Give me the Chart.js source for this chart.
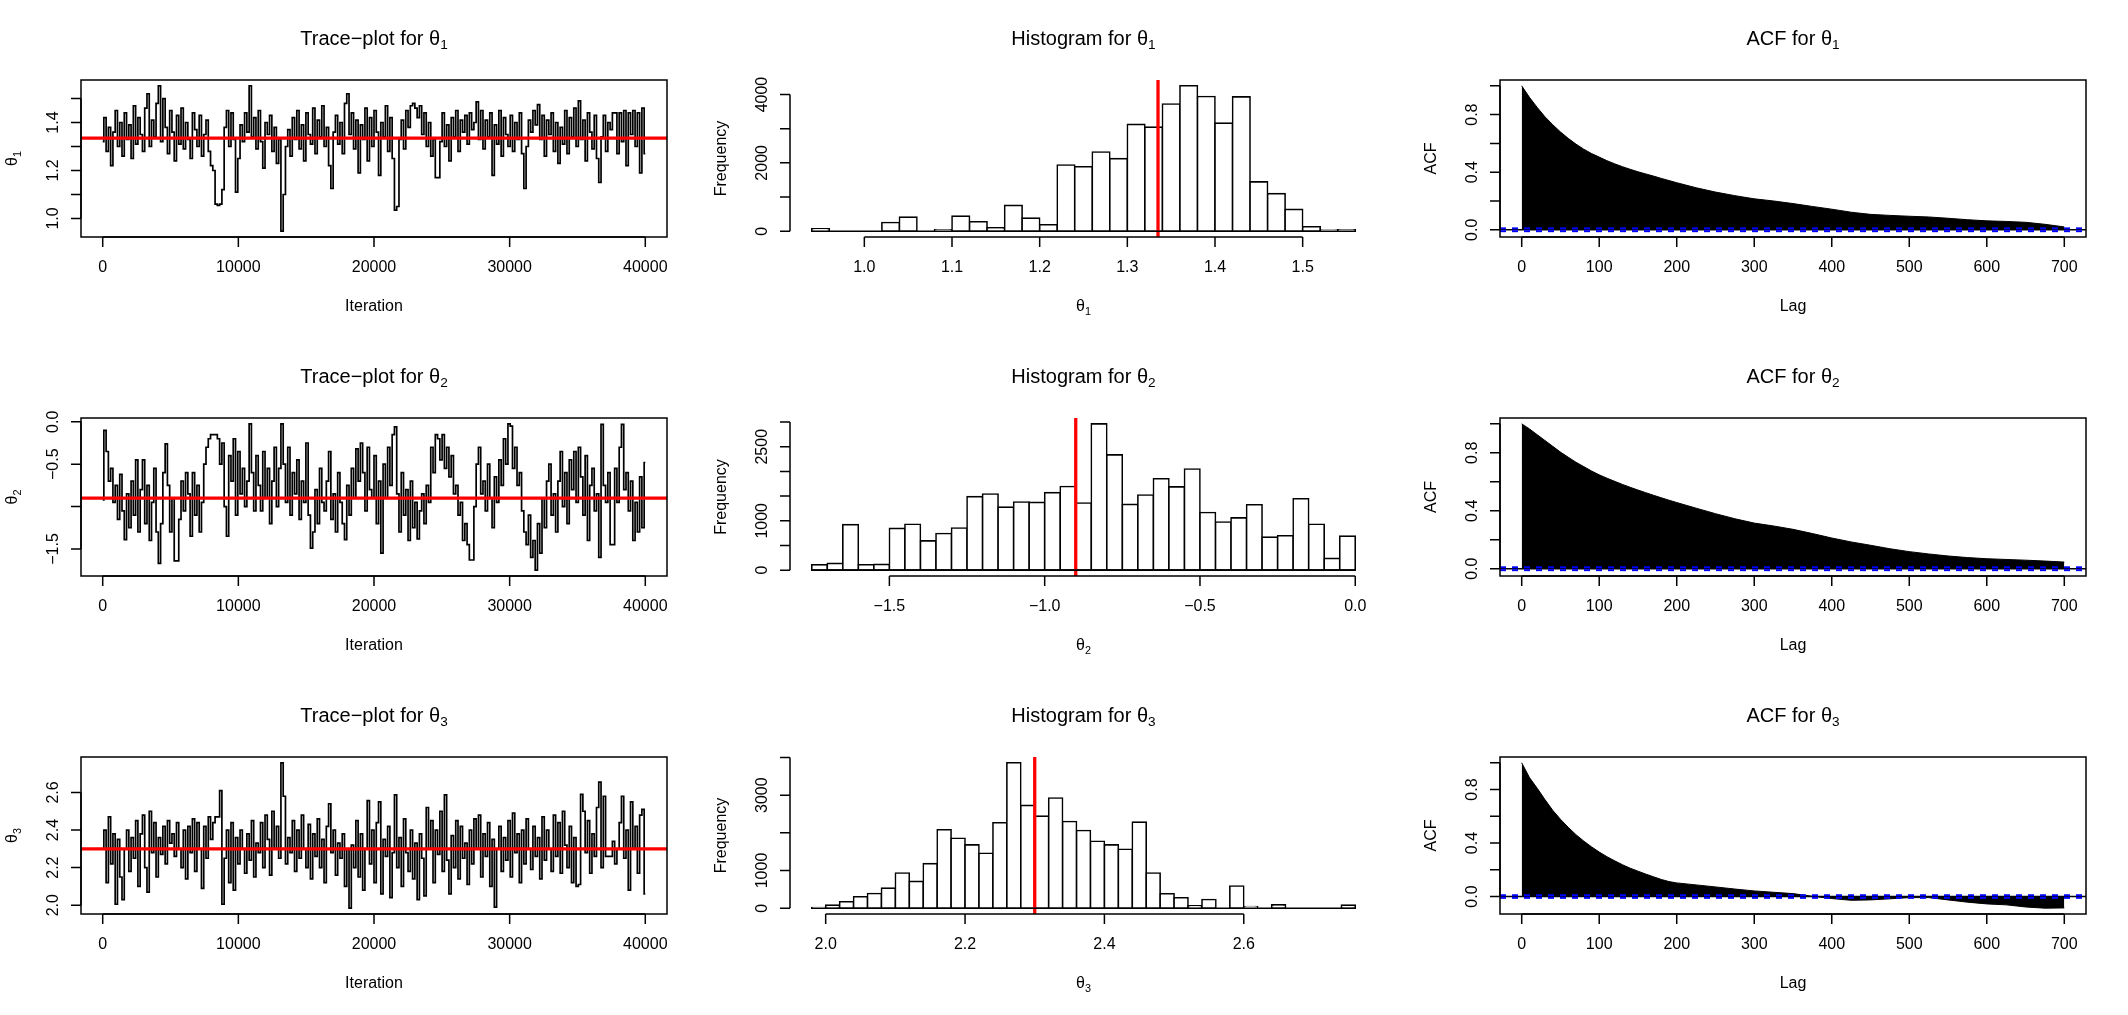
<!DOCTYPE html>
<html><head><meta charset="utf-8">
<script src="https://cdn.jsdelivr.net/npm/chart.js@4.4.0/dist/chart.umd.min.js"></script>
<style>html,body{margin:0;padding:0;background:#fff;width:2128px;height:1015px;overflow:hidden}canvas{position:absolute}</style>
</head><body>
<script>
// ---------- DATA ----------
const iterMax = 40000;
const traceXTicks = [0, 10000, 20000, 30000, 40000];
const traceXLabels = ['0', '10000', '20000', '30000', '40000'];

const trace1 = [
1.32,1.42,1.28,1.38,1.22,1.36,1.45,1.30,1.40,1.26,
1.44,1.33,1.39,1.25,1.47,1.31,1.42,1.35,1.28,1.46,
1.52,1.30,1.41,1.34,1.48,1.553,1.32,1.50,1.38,1.27,
1.45,1.36,1.24,1.43,1.31,1.46,1.29,1.40,1.33,1.25,
1.44,1.37,1.30,1.43,1.26,1.35,1.41,1.28,1.22,1.20,
1.06,1.055,1.06,1.12,1.38,1.45,1.30,1.44,1.33,1.11,
1.25,1.39,1.32,1.44,1.36,1.553,1.34,1.42,1.29,1.45,
1.32,1.21,1.40,1.35,1.43,1.28,1.38,1.23,1.33,0.947,
1.10,1.30,1.37,1.26,1.42,1.33,1.45,1.29,1.39,1.24,
1.44,1.35,1.31,1.46,1.27,1.41,1.34,1.47,1.30,1.38,
1.22,1.125,1.36,1.43,1.31,1.40,1.27,1.48,1.52,1.35,
1.44,1.29,1.41,1.19,1.39,1.33,1.46,1.24,1.42,1.30,
1.45,1.36,1.18,1.40,1.34,1.47,1.28,1.42,1.25,1.035,
1.05,1.33,1.41,1.29,1.45,1.38,1.47,1.48,1.46,1.42,
1.47,1.35,1.44,1.30,1.40,1.26,1.33,1.17,1.17,1.32,
1.44,1.30,1.39,1.24,1.42,1.34,1.45,1.28,1.41,1.36,
1.43,1.31,1.44,1.37,1.40,1.486,1.33,1.45,1.29,1.41,
1.34,1.44,1.18,1.39,1.31,1.45,1.26,1.42,1.35,1.30,
1.43,1.28,1.40,1.33,1.44,1.27,1.125,1.30,1.41,1.36,
1.45,1.39,1.475,1.33,1.43,1.26,1.41,1.35,1.44,1.28,
1.40,1.23,1.38,1.31,1.45,1.27,1.42,1.34,1.46,1.30,
1.49,1.33,1.41,1.24,1.44,1.36,1.29,1.43,1.25,1.15,
1.34,1.43,1.28,1.40,1.37,1.44,1.44,1.27,1.44,1.32,
1.45,1.22,1.44,1.35,1.45,1.30,1.44,1.19,1.46,1.27];

const trace2 = [
-0.92,-0.10,-0.35,-0.70,-0.55,-0.95,-0.75,-1.15,-0.62,-1.05,
-1.39,-0.85,-1.25,-0.70,-1.10,-0.45,-1.30,-0.80,-0.45,-1.20,
-0.75,-1.40,-0.95,-0.55,-1.30,-1.67,-1.20,-0.60,-0.26,-0.75,
-1.30,-0.90,-1.64,-1.64,-1.15,-0.70,-1.05,-0.60,-0.85,-1.35,
-0.60,-1.10,-0.75,-1.30,-0.95,-0.50,-0.30,-0.20,-0.15,-0.15,
-0.15,-0.20,-0.50,-0.25,-1.00,-1.35,-0.40,-0.70,-0.20,-1.10,
-0.35,-0.85,-0.55,-1.00,-0.70,-0.024,-0.60,-1.05,-0.40,-0.75,
-1.05,-0.35,-0.90,-0.55,-1.20,-0.70,-0.30,-1.00,-0.55,-0.024,
-0.50,-0.95,-0.30,-1.10,-0.60,-0.85,-0.45,-1.15,-0.70,-0.95,
-0.25,-1.10,-1.49,-1.30,-0.80,-1.20,-0.55,-0.95,-1.05,-0.70,
-0.35,-1.15,-0.85,-1.30,-0.60,-0.95,-1.20,-1.39,-0.75,-1.10,
-0.55,-0.90,-0.32,-0.70,-0.25,-0.60,-1.05,-0.30,-0.80,-0.90,
-0.40,-1.20,-0.70,-1.55,-0.50,-0.90,-0.30,-0.75,-0.15,-0.06,
-0.85,-1.30,-0.60,-1.10,-0.80,-1.40,-0.70,-1.25,-0.95,-1.38,
-1.05,-0.85,-1.20,-0.75,-0.95,-0.30,-0.60,-0.15,-0.20,-0.45,
-0.15,-0.55,-0.30,-0.65,-0.40,-0.85,-0.75,-1.10,-0.95,-1.40,
-1.20,-1.45,-1.63,-1.63,-1.00,-0.50,-0.30,-0.85,-0.70,-1.05,
-0.50,-0.90,-1.25,-0.65,-0.95,-0.45,-0.75,-0.20,-0.50,-0.024,
-0.05,-0.55,-0.30,-0.75,-0.60,-1.05,-1.30,-1.45,-1.10,-1.60,
-1.40,-1.75,-1.20,-1.55,-0.90,-1.25,-0.70,-0.50,-1.10,-0.85,
-1.30,-0.70,-0.35,-1.00,-0.60,-1.20,-0.45,-0.80,-0.35,-0.95,
-0.30,-0.65,-1.10,-0.40,-1.40,-0.75,-0.55,-1.05,-0.85,-1.60,
-0.03,-0.75,-0.95,-0.60,-1.45,-1.45,-0.55,-0.95,-0.30,-0.03,
-0.80,-0.60,-1.05,-0.70,-1.40,-0.95,-1.30,-0.65,-1.25,-0.48];

const trace3 = [
2.30,2.40,2.12,2.47,2.22,2.38,2.005,2.35,2.15,2.03,
2.30,2.40,2.18,2.36,2.25,2.45,2.10,2.38,2.48,2.20,
2.07,2.50,2.28,2.44,2.15,2.36,2.27,2.42,2.22,2.45,
2.33,2.38,2.26,2.44,2.30,2.20,2.40,2.14,2.42,2.28,
2.46,2.18,2.44,2.30,2.09,2.42,2.25,2.47,2.35,2.44,
2.47,2.47,2.61,2.005,2.25,2.40,2.12,2.44,2.08,2.36,
2.22,2.40,2.30,2.17,2.38,2.24,2.45,2.15,2.33,2.28,
2.44,2.20,2.48,2.35,2.16,2.50,2.30,2.42,2.25,2.758,
2.58,2.22,2.36,2.28,2.45,2.18,2.40,2.25,2.48,2.30,
2.20,2.43,2.14,2.38,2.26,2.46,2.20,2.35,2.12,2.42,
2.54,2.28,2.40,2.16,2.33,2.25,2.38,2.10,2.30,1.984,
2.32,2.20,2.45,2.15,2.38,2.08,2.30,2.557,2.22,2.40,
2.12,2.44,2.55,2.06,2.35,2.26,2.42,2.04,2.28,2.587,
2.20,2.36,2.10,2.46,2.28,2.18,2.40,2.14,2.33,2.03,
2.38,2.25,2.05,2.52,2.30,2.45,2.12,2.40,2.27,2.50,
2.18,2.587,2.24,2.06,2.37,2.20,2.45,2.14,2.42,2.25,
2.33,2.11,2.40,2.22,2.46,2.30,2.48,2.15,2.38,2.26,
2.44,2.10,2.35,1.99,2.30,2.42,2.18,2.36,2.24,2.45,
2.15,2.49,2.28,2.38,2.12,2.40,2.22,2.46,2.30,2.19,
2.42,2.26,2.36,2.14,2.47,2.24,2.40,2.30,2.18,2.48,
2.26,2.44,2.17,2.50,2.32,2.20,2.42,2.12,2.36,2.10,
2.11,2.59,2.50,2.28,2.45,2.17,2.38,2.26,2.52,2.655,
2.20,2.58,2.26,2.26,2.26,2.34,2.22,2.30,2.44,2.58,
2.25,2.40,2.08,2.55,2.30,2.42,2.17,2.48,2.51,2.06];

const posteriorMeans = [1.335, -0.90, 2.30];

const trace1YTicks = [1.0, 1.1, 1.2, 1.3, 1.4, 1.5];
const trace1YLabels = ['1.0', '', '1.2', '', '1.4', ''];
const trace2YTicks = [-1.5, -1.0, -0.5, 0.0];
const trace2YLabels = ['\u22121.5', '', '\u22120.5', '0.0'];
const trace3YTicks = [2.0, 2.2, 2.4, 2.6];
const trace3YLabels = ['2.0', '2.2', '2.4', '2.6'];

const hist1Start = 0.94, hist1Bin = 0.02;
const hist1Counts = [70,0,0,0,255,413,0,40,442,275,100,757,383,187,1936,1887,2320,2123,3126,3047,3725,4256,3941,3165,3931,1445,1101,639,128,30,40];
const hist1XTicks = [1.0, 1.1, 1.2, 1.3, 1.4, 1.5];
const hist1XLabels = ['1.0', '1.1', '1.2', '1.3', '1.4', '1.5'];
const hist1YTicks = [0, 1000, 2000, 3000, 4000];
const hist1YLabels = ['0', '', '2000', '', '4000'];

const hist2Start = -1.75, hist2Bin = 0.05;
const hist2Counts = [109,137,922,109,116,847,929,594,744,854,1489,1544,1277,1380,1373,1571,1694,1359,2964,2336,1332,1523,1851,1687,2049,1168,977,1059,1325,669,697,1448,929,239,690];
const hist2XTicks = [-1.5, -1.0, -0.5, 0.0];
const hist2XLabels = ['\u22121.5', '\u22121.0', '\u22120.5', '0.0'];
const hist2YTicks = [0, 500, 1000, 1500, 2000, 2500, 3000];
const hist2YLabels = ['0', '', '1000', '', '', '2500', ''];

const hist3Start = 1.98, hist3Bin = 0.02;
const hist3Counts = [20,80,169,302,391,533,933,711,1182,2080,1858,1680,1458,2267,3858,2729,2444,2924,2302,2062,1778,1680,1564,2284,933,382,276,62,231,0,587,44,0,89,0,0,0,0,80];
const hist3XTicks = [2.0, 2.2, 2.4, 2.6];
const hist3XLabels = ['2.0', '2.2', '2.4', '2.6'];
const hist3YTicks = [0, 1000, 2000, 3000, 4000];
const hist3YLabels = ['0', '1000', '', '3000', ''];

const acfLags = [0,10,20,30,40,50,60,70,80,90,100,110,120,130,140,150,160,170,180,190,200,225,250,275,300,325,350,375,400,425,450,475,500,525,550,575,600,625,650,675,700];
const acf1 = [1.00,0.92,0.85,0.785,0.73,0.68,0.635,0.595,0.56,0.53,0.505,0.48,0.458,0.438,0.42,0.403,0.388,0.373,0.357,0.342,0.327,0.292,0.262,0.237,0.215,0.200,0.182,0.162,0.143,0.122,0.107,0.100,0.094,0.089,0.080,0.070,0.062,0.058,0.052,0.038,0.020];
const acf2 = [1.00,0.965,0.925,0.885,0.845,0.805,0.77,0.735,0.705,0.675,0.648,0.625,0.603,0.582,0.562,0.543,0.525,0.507,0.49,0.473,0.457,0.418,0.38,0.345,0.315,0.295,0.272,0.243,0.212,0.185,0.162,0.138,0.118,0.102,0.088,0.077,0.069,0.064,0.059,0.053,0.046];
const acf3 = [1.00,0.89,0.81,0.725,0.645,0.578,0.518,0.463,0.415,0.372,0.333,0.298,0.267,0.238,0.212,0.19,0.168,0.148,0.128,0.112,0.102,0.087,0.072,0.056,0.042,0.032,0.022,0.002,-0.015,-0.028,-0.025,-0.017,-0.008,-0.008,-0.025,-0.042,-0.055,-0.062,-0.078,-0.087,-0.085];
const acfCI = 0.0098;
const acfXTicks = [0, 100, 200, 300, 400, 500, 600, 700];
const acfXLabels = ['0', '100', '200', '300', '400', '500', '600', '700'];
const acfYTicks = [0, 0.2, 0.4, 0.6, 0.8, 1.0];
const acfYLabels = ['0.0', '', '0.4', '', '0.8', ''];

// ---------- LAYOUT / DRAWING ----------
const W = [709, 710, 709], H = [338, 339, 338];
const X0 = [0, 709, 1419], Y0 = [0, 338, 677];
const PAD = {left: 81, right: 42, top: 80, bottom: 101};
const FONT = '"Liberation Sans", Arial, Helvetica, sans-serif';
const TICK = 10;

function rExt(lo, hi) { const d = (hi - lo) * 0.04; return [lo - d, hi + d]; }
function setFont(ctx, s) { ctx.font = s + 'px ' + FONT; }
function partsWidth(ctx, parts, size) {
  let w = 0;
  for (const p of parts) { setFont(ctx, p.sub ? size * 0.68 : size); w += ctx.measureText(p.t).width; }
  return w;
}
function drawParts(ctx, parts, x, y, size) {
  let cx = x - partsWidth(ctx, parts, size) / 2;
  ctx.textAlign = 'left'; ctx.textBaseline = 'alphabetic';
  for (const p of parts) {
    const s = p.sub ? size * 0.68 : size;
    setFont(ctx, s);
    ctx.fillText(p.t, cx, y + (p.sub ? size * 0.22 : 0));
    cx += ctx.measureText(p.t).width;
  }
}
function drawPartsRot(ctx, parts, x, y, size) {
  ctx.save(); ctx.translate(x, y); ctx.rotate(-Math.PI / 2); drawParts(ctx, parts, 0, 0, size); ctx.restore();
}

function rAxesPlugin(cfg) {
  return {
    id: 'raxes',
    afterDatasetsDraw(chart) {
      if (!cfg.baseline) return;
      const ctx = chart.ctx, xs = chart.scales.x, ys = chart.scales.y;
      ctx.save(); ctx.strokeStyle = '#000'; ctx.lineWidth = 1.6;
      ctx.beginPath();
      ctx.moveTo(xs.getPixelForValue(cfg.baseline[0]), ys.getPixelForValue(0));
      ctx.lineTo(xs.getPixelForValue(cfg.baseline[1]), ys.getPixelForValue(0));
      ctx.stroke(); ctx.restore();
    },
    afterDraw(chart) {
      const ctx = chart.ctx, a = chart.chartArea, xs = chart.scales.x, ys = chart.scales.y;
      ctx.save();
      ctx.strokeStyle = '#000'; ctx.fillStyle = '#000'; ctx.lineWidth = 1.5;
      if (cfg.box) ctx.strokeRect(a.left, a.top, a.right - a.left, a.bottom - a.top);
      const xp = cfg.xTicks.map(v => xs.getPixelForValue(v));
      const yp = cfg.yTicks.map(v => ys.getPixelForValue(v));
      ctx.beginPath();
      ctx.moveTo(xp[0], a.bottom); ctx.lineTo(xp[xp.length - 1], a.bottom);
      xp.forEach(px => { ctx.moveTo(px, a.bottom); ctx.lineTo(px, a.bottom + TICK); });
      ctx.moveTo(a.left, yp[0]); ctx.lineTo(a.left, yp[yp.length - 1]);
      yp.forEach(py => { ctx.moveTo(a.left, py); ctx.lineTo(a.left - TICK, py); });
      ctx.stroke();
      xp.forEach((px, i) => { if (cfg.xLabels[i]) drawParts(ctx, [{t: cfg.xLabels[i]}], px, a.bottom + 35, 16); });
      yp.forEach((py, i) => { if (cfg.yLabels[i]) drawPartsRot(ctx, [{t: cfg.yLabels[i]}], a.left - 23, py, 16); });
      const cx = (a.left + a.right) / 2, cy = (a.top + a.bottom) / 2;
      drawParts(ctx, cfg.title, cx, a.top - 35, 20);
      drawParts(ctx, cfg.xTitle, cx, a.bottom + 74, 16);
      drawPartsRot(ctx, cfg.yTitle, a.left - 64, cy, 16);
      ctx.restore();
    }
  };
}

const baseOpts = {
  responsive: false, animation: false, devicePixelRatio: 1, events: [],
  layout: {padding: PAD},
  plugins: {legend: {display: false}, tooltip: {enabled: false}, title: {display: false}}
};
function scalesFor(xr, yr) {
  return {
    x: {type: 'linear', display: false, min: xr[0], max: xr[1], offset: false},
    y: {type: 'linear', display: false, min: yr[0], max: yr[1]}
  };
}
const theta = k => [{t: '\u03b8'}, {t: String(k), sub: true}];

function traceConfig(k, vals, mean, yTicks, yLabels) {
  const xr = rExt(0, iterMax);
  const yr = rExt(Math.min(...vals), Math.max(...vals));
  const step = iterMax / (vals.length - 1);
  const cfg = {box: true, xTicks: traceXTicks, xLabels: traceXLabels, yTicks, yLabels,
    title: [{t: 'Trace\u2212plot for \u03b8'}, {t: String(k), sub: true}],
    xTitle: [{t: 'Iteration'}], yTitle: theta(k)};
  return {
    type: 'line',
    data: {datasets: [
      {data: [{x: xr[0], y: mean}, {x: xr[1], y: mean}], borderColor: '#ff0000', borderWidth: 3.4, pointRadius: 0},
      {data: vals.map((v, i) => ({x: i * step, y: v})), borderColor: '#000', borderWidth: 1.7, pointRadius: 0, stepped: 'middle'}
    ]},
    options: Object.assign({}, baseOpts, {scales: scalesFor(xr, yr)}),
    plugins: [rAxesPlugin(cfg)]
  };
}

function histConfig(k, start, bin, counts, mean, xTicks, xLabels, yTicks, yLabels) {
  const end = start + bin * counts.length;
  const xr = rExt(start, end);
  const yr = rExt(0, Math.max(...counts));
  const cfg = {box: false, baseline: [start, end], xTicks, xLabels, yTicks, yLabels,
    title: [{t: 'Histogram for \u03b8'}, {t: String(k), sub: true}],
    xTitle: theta(k), yTitle: [{t: 'Frequency'}]};
  return {
    type: 'bar',
    data: {datasets: [
      {type: 'line', data: [{x: mean, y: yr[0]}, {x: mean, y: yr[1]}], borderColor: '#ff0000', borderWidth: 3.3, pointRadius: 0},
      {type: 'bar', data: counts.map((c, i) => ({x: start + (i + 0.5) * bin, y: c})),
       backgroundColor: '#ffffff', borderColor: '#000', borderWidth: 1.6, inflateAmount: 0.8,
       borderSkipped: false, barPercentage: 1, categoryPercentage: 1}
    ]},
    options: Object.assign({}, baseOpts, {scales: scalesFor(xr, yr)}),
    plugins: [rAxesPlugin(cfg)]
  };
}

function acfConfig(k, vals) {
  const xr = rExt(0, acfLags[acfLags.length - 1]);
  const yr = rExt(Math.min(Math.min(...vals), -acfCI), 1);
  const cfg = {box: true, xTicks: acfXTicks, xLabels: acfXLabels, yTicks: acfYTicks, yLabels: acfYLabels,
    title: [{t: 'ACF for \u03b8'}, {t: String(k), sub: true}],
    xTitle: [{t: 'Lag'}], yTitle: [{t: 'ACF'}]};
  const hline = v => [{x: xr[0], y: v}, {x: xr[1], y: v}];
  return {
    type: 'line',
    data: {datasets: [
      {data: hline(acfCI), borderColor: '#0000ff', borderWidth: 2, borderDash: [6, 6], pointRadius: 0},
      {data: hline(-acfCI), borderColor: '#0000ff', borderWidth: 2, borderDash: [6, 6], pointRadius: 0},
      {data: hline(0), borderColor: '#000', borderWidth: 1.5, pointRadius: 0},
      {data: acfLags.map((l, i) => ({x: l, y: vals[i]})), borderColor: '#000', backgroundColor: '#000',
       borderWidth: 1, pointRadius: 0, tension: 0, fill: {value: 0}}
    ]},
    options: Object.assign({}, baseOpts, {scales: scalesFor(xr, yr)}),
    plugins: [rAxesPlugin(cfg)]
  };
}

const configs = [
  traceConfig(1, trace1, posteriorMeans[0], trace1YTicks, trace1YLabels),
  histConfig(1, hist1Start, hist1Bin, hist1Counts, posteriorMeans[0], hist1XTicks, hist1XLabels, hist1YTicks, hist1YLabels),
  acfConfig(1, acf1),
  traceConfig(2, trace2, posteriorMeans[1], trace2YTicks, trace2YLabels),
  histConfig(2, hist2Start, hist2Bin, hist2Counts, posteriorMeans[1], hist2XTicks, hist2XLabels, hist2YTicks, hist2YLabels),
  acfConfig(2, acf2),
  traceConfig(3, trace3, posteriorMeans[2], trace3YTicks, trace3YLabels),
  histConfig(3, hist3Start, hist3Bin, hist3Counts, posteriorMeans[2], hist3XTicks, hist3XLabels, hist3YTicks, hist3YLabels),
  acfConfig(3, acf3)
];

configs.forEach((config, idx) => {
  const r = Math.floor(idx / 3), c = idx % 3;
  const cv = document.createElement('canvas');
  cv.width = W[c]; cv.height = H[r];
  cv.style.left = X0[c] + 'px'; cv.style.top = Y0[r] + 'px';
  cv.style.width = W[c] + 'px'; cv.style.height = H[r] + 'px';
  document.body.appendChild(cv);
  new Chart(cv.getContext('2d'), config);
});
</script>
</body></html>
